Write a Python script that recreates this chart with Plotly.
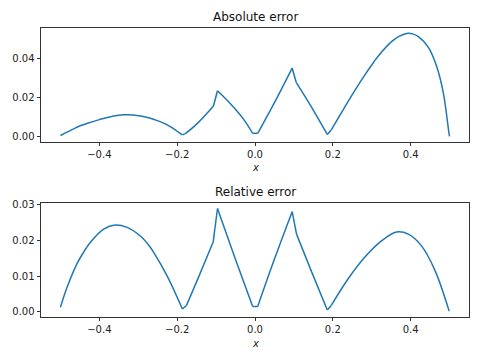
import plotly.graph_objects as go
from plotly.subplots import make_subplots

# Absolute error readings
x_abs = [-0.5, -0.466, -0.452, -0.423, -0.4, -0.38, -0.337, -0.294, -0.271, -0.251, -0.228, -0.208,
         -0.1866, -0.178, -0.148, -0.1067, -0.0964, -0.0619, -0.03, -0.006, 0.007, 0.05, 0.0955,
         0.1058, 0.1445, 0.1858, 0.196, 0.239, 0.254, 0.282, 0.305, 0.317, 0.351, 0.37, 0.39,
         0.405, 0.42, 0.446, 0.467, 0.484, 0.499, 0.5]
abs_err = [0.0007, 0.0041, 0.0054, 0.0074, 0.0088, 0.0099, 0.0113, 0.0107, 0.0096, 0.0083, 0.0064, 0.0040,
           0.0010, 0.0018, 0.0069, 0.0158, 0.0236, 0.0167, 0.0092, 0.0018, 0.0018, 0.0175, 0.0352,
           0.0279, 0.0155, 0.0012, 0.0035, 0.0180, 0.0229, 0.0316, 0.0382, 0.0414, 0.0487, 0.0514, 0.0529,
           0.0527, 0.0513, 0.0457, 0.0360, 0.0225, 0.0012, 0.0002]
abs_kinks = [-0.1866, -0.178, -0.1067, -0.0964, -0.006, 0.007, 0.0955, 0.1058, 0.1858, 0.196]

# Relative error readings
x_rel = [-0.5, -0.483, -0.458, -0.443, -0.423, -0.389, -0.363, -0.3286, -0.294, -0.271, -0.26, -0.225,
         -0.1866, -0.176, -0.1437, -0.1075, -0.0964, -0.0533, -0.006, 0.007, 0.05, 0.0955, 0.1067,
         0.1445, 0.1858, 0.196, 0.239, 0.282, 0.325, 0.364, 0.394, 0.428, 0.463, 0.499]
rel_err = [0.0013, 0.0069, 0.0134, 0.0163, 0.0195, 0.0232, 0.0243, 0.0237, 0.0212, 0.0184, 0.0166, 0.0099,
           0.0008, 0.0018, 0.0101, 0.0196, 0.0290, 0.0157, 0.0015, 0.0015, 0.0148, 0.0281, 0.0218,
           0.0115, 0.0005, 0.0018, 0.0092, 0.0153, 0.0199, 0.0224, 0.0218, 0.0185, 0.0115, 0.0002]
rel_kinks = [-0.1866, -0.176, -0.1075, -0.0964, -0.006, 0.007, 0.0955, 0.1067, 0.1858, 0.196]

x_ticks = [-0.4, -0.2, 0.0, 0.2, 0.4]
x_tick_text = ["\u22120.4", "\u22120.2", "0.0", "0.2", "0.4"]
abs_ticks = [0.0, 0.02, 0.04]
abs_tick_text = ["0.00", "0.02", "0.04"]
rel_ticks = [0.0, 0.01, 0.02, 0.03]
rel_tick_text = ["0.00", "0.01", "0.02", "0.03"]

titles = ["Absolute error", "Relative error"]


def segments(xs, ys, kinks):
    segs = []
    cur_x, cur_y = [], []
    for xv, yv in zip(xs, ys):
        cur_x.append(xv)
        cur_y.append(yv)
        if xv in kinks:
            segs.append((cur_x, cur_y))
            cur_x, cur_y = [xv], [yv]
    if len(cur_x) > 1:
        segs.append((cur_x, cur_y))
    return segs


fig = make_subplots(rows=2, cols=1)
line = dict(color="#1f77b4", width=1.5, shape="spline", smoothing=1.0)
for row, (xs, ys, kinks) in enumerate([(x_abs, abs_err, abs_kinks), (x_rel, rel_err, rel_kinks)], start=1):
    for sx, sy in segments(xs, ys, kinks):
        fig.add_trace(go.Scatter(x=sx, y=sy, mode="lines", line=line, showlegend=False,
                                 hoverinfo="x+y"), row=row, col=1)

axis_common = dict(showline=True, mirror=True, linecolor="#333333", linewidth=0.8,
                   ticks="outside", ticklen=3.5, tickwidth=0.8, tickcolor="#333333",
                   showgrid=False, zeroline=False, automargin=False,
                   tickfont=dict(family="DejaVu Sans", size=10, color="#222222"))

fig.update_layout(
    width=480, height=360,
    margin=dict(l=41, r=11, t=28, b=43),
    paper_bgcolor="white", plot_bgcolor="white",
    xaxis=dict(domain=[0, 1], range=[-0.55, 0.55], tickvals=x_ticks, ticktext=x_tick_text, **axis_common),
    yaxis=dict(domain=[0.6055, 1], range=[-0.00265, 0.0557], tickvals=abs_ticks, ticktext=abs_tick_text, **axis_common),
    xaxis2=dict(domain=[0, 1], range=[-0.55, 0.55], tickvals=x_ticks, ticktext=x_tick_text, **axis_common),
    yaxis2=dict(domain=[0, 0.3934], range=[-0.00145, 0.03045], tickvals=rel_ticks, ticktext=rel_tick_text, **axis_common),
)

ann_font = dict(family="DejaVu Sans", size=12, color="#111111")
lab_font = dict(family="DejaVu Sans", size=10, color="#222222")
fig.add_annotation(text=titles[0], x=0.5, y=1.038, xref="paper", yref="paper",
                   showarrow=False, font=ann_font, xanchor="center", yanchor="middle")
fig.add_annotation(text=titles[1], x=0.5, y=0.4325, xref="paper", yref="paper",
                   showarrow=False, font=ann_font, xanchor="center", yanchor="middle")
fig.add_annotation(text="<i>x</i>", x=0.5, y=0.5156, xref="paper", yref="paper",
                   showarrow=False, font=lab_font, xanchor="center", yanchor="middle")
fig.add_annotation(text="<i>x</i>", x=0.5, y=-0.09, xref="paper", yref="paper",
                   showarrow=False, font=lab_font, xanchor="center", yanchor="middle")

fig.write_html("out.html", config={"displayModeBar": False},
               post_script="document.body.style.margin='0';document.body.style.overflow='hidden';")
